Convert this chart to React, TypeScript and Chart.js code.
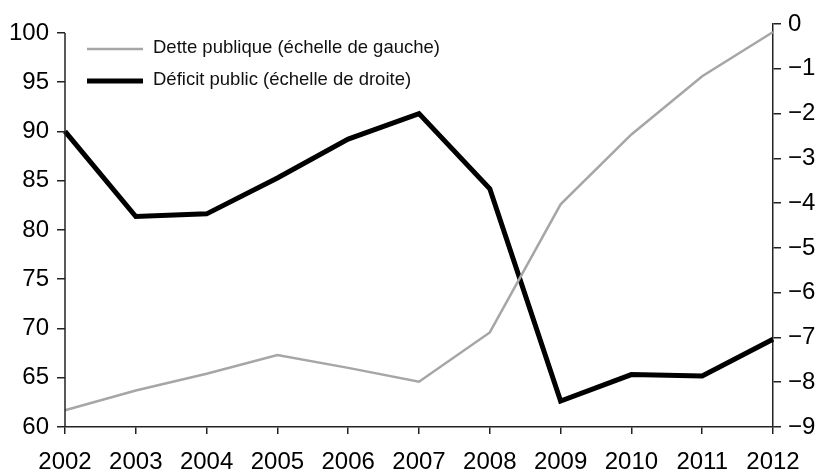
import React, { useEffect, useRef } from "react";
import { Chart, registerables } from "chart.js";

Chart.register(...registerables);

const years = ["2002", "2003", "2004", "2005", "2006", "2007", "2008", "2009", "2010", "2011", "2012"];
const dettePublique = [61.7, 63.7, 65.4, 67.3, 66.0, 64.6, 69.6, 82.6, 89.7, 95.6, 100.1];
const deficitPublic = [-2.4, -4.3, -4.24, -3.44, -2.57, -2.0, -3.68, -8.42, -7.83, -7.86, -7.04];
const legendLabels = ["Dette publique (échelle de gauche)", "Déficit public (échelle de droite)"];
const leftTicks = [60, 65, 70, 75, 80, 85, 90, 95, 100];
const rightTicks = [-9, -8, -7, -6, -5, -4, -3, -2, -1, 0];

const FONT = "'Liberation Sans', Arial, sans-serif";
const GRAY = "#a6a6a6";
const AXIS = "#222222";

const customPlugin = {
  id: "customDecor",
  afterDraw(chart: any) {
    const ctx = chart.ctx;
    const y = chart.scales.y;
    const x = chart.scales.x;
    ctx.save();
    ctx.strokeStyle = AXIS;
    ctx.lineWidth = 1.5;
    ctx.beginPath();
    ctx.moveTo(x.left, y.getPixelForValue(60));
    ctx.lineTo(x.left, y.getPixelForValue(100));
    ctx.stroke();
    const items = [
      { color: GRAY, width: 2.5, y: 49 },
      { color: "#000000", width: 5, y: 81 },
    ];
    items.forEach((it, i) => {
      ctx.strokeStyle = it.color;
      ctx.lineWidth = it.width;
      ctx.beginPath();
      ctx.moveTo(87, it.y);
      ctx.lineTo(143, it.y);
      ctx.stroke();
      ctx.fillStyle = "#111111";
      ctx.font = `18.5px ${FONT}`;
      ctx.textAlign = "left";
      ctx.textBaseline = "middle";
      ctx.fillText(legendLabels[i], 153, it.y - 1);
    });
    ctx.restore();
  },
};

export default function App() {
  const ref = useRef<HTMLCanvasElement | null>(null);
  useEffect(() => {
    document.body.style.margin = "0";
    const canvas = ref.current!;
    const chart = new Chart(canvas, {
      type: "line",
      data: {
        labels: years,
        datasets: [
          {
            label: legendLabels[0],
            data: dettePublique,
            yAxisID: "y",
            borderColor: GRAY,
            borderWidth: 2.5,
            pointRadius: 0,
            tension: 0,
          },
          {
            label: legendLabels[1],
            data: deficitPublic,
            yAxisID: "y1",
            borderColor: "#000000",
            borderWidth: 5,
            pointRadius: 0,
            tension: 0,
            borderJoinStyle: "miter",
          },
        ],
      },
      options: {
        animation: false,
        responsive: false,
        maintainAspectRatio: false,
        layout: { padding: { top: 24, left: 0, right: 0, bottom: 0 } },
        plugins: { legend: { display: false }, tooltip: { enabled: false } },
        scales: {
          x: {
            type: "category",
            offset: false,
            grid: { drawOnChartArea: false, drawTicks: true, tickLength: 7, color: AXIS, lineWidth: 1.5 },
            border: { display: true, color: AXIS, width: 1.5 },
            ticks: { color: "#000", font: { family: FONT, size: 24 }, padding: 14, maxRotation: 0, autoSkip: false },
            afterFit: (s: any) => { s.height = 46; },
          },
          y: {
            type: "linear",
            position: "left",
            min: 60,
            max: 100.91,
            afterBuildTicks: (s: any) => { s.ticks = leftTicks.map((v) => ({ value: v })); },
            grid: { drawOnChartArea: false, drawTicks: true, tickLength: 8, color: AXIS, lineWidth: 1.5 },
            border: { display: false },
            ticks: { color: "#000", font: { family: FONT, size: 24 }, padding: 8 },
            afterFit: (s: any) => { s.width = 65; },
          },
          y1: {
            type: "linear",
            position: "right",
            min: -9,
            max: 0,
            afterBuildTicks: (s: any) => { s.ticks = rightTicks.map((v) => ({ value: v })); },
            grid: { drawOnChartArea: false, drawTicks: true, tickLength: 8, color: AXIS, lineWidth: 1.5 },
            border: { display: true, color: AXIS, width: 1.5 },
            ticks: {
              color: "#000",
              font: { family: FONT, size: 24 },
              padding: 7,
              callback: (v: any) => (v < 0 ? "\u2212" + Math.abs(v) : String(v)),
            },
            afterFit: (s: any) => { s.width = 47; },
          },
        },
      },
      plugins: [customPlugin],
    });
    return () => chart.destroy();
  }, []);
  return (
    <div style={{ width: 820, height: 473 }}>
      <canvas ref={ref} width={820} height={473} style={{ display: "block" }} />
    </div>
  );
}
